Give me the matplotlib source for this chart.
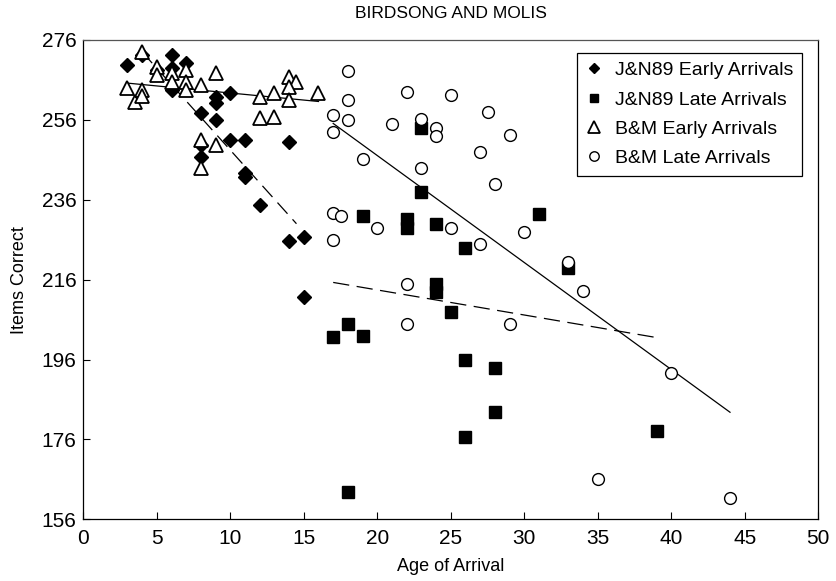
import matplotlib
matplotlib.use('Agg')
import matplotlib.pyplot as plt

plt.rcParams['font.family'] = ['Liberation Sans', 'DejaVu Sans']

# J&N89 early arrivals (diamonds)
jn_early_age = [3, 4, 5, 6, 6, 7, 6, 9, 9, 10, 8, 9, 10, 11, 14, 8, 8, 11, 11, 12, 14, 15, 15]
jn_early_score = [269.7, 272.2, 268.5, 272.2, 269.0, 270.2, 263.5, 261.8, 260.2, 262.7, 257.6,
                  256.0, 251.0, 251.0, 250.5, 249.7, 246.8, 242.6, 241.8, 234.7, 225.7, 226.6, 211.7]

# J&N89 late arrivals (squares)
jn_late_age = [23, 23, 19, 22, 22, 24, 31, 26, 33, 24, 24, 25, 18, 17, 19, 26, 28, 28, 26, 18, 39]
jn_late_score = [254.0, 238.0, 232.0, 231.3, 229.0, 230.0, 232.5, 224.0, 219.0, 215.0, 213.0,
                 208.0, 205.0, 201.7, 202.0, 196.0, 194.0, 182.8, 176.5, 162.8, 178.0]

# B&M early arrivals (triangles)
bm_early_age = [3, 3.5, 4, 4, 4, 5, 5, 6, 6, 7, 7, 7, 8, 9, 12, 13, 14, 14.5, 14, 14, 16,
                12, 13, 8, 9, 8]
bm_early_score = [264.0, 260.5, 263.5, 262.0, 273.0, 269.3, 267.2, 267.7, 265.6, 268.5, 265.6,
                  263.5, 264.7, 267.7, 261.8, 262.7, 266.8, 265.6, 264.3, 261.0, 262.7,
                  256.4, 256.8, 251.0, 249.7, 244.0]

# B&M late arrivals (circles)
bm_late_age = [18, 18, 18, 17, 17, 22, 25, 21, 23, 24, 24, 27.5, 29, 27, 19, 23, 28,
               17, 17.5, 20, 25, 27, 30, 17, 22, 22, 29, 33, 34, 40, 35, 44]
bm_late_score = [268.2, 261.0, 256.0, 257.2, 252.9, 262.9, 262.2, 255.0, 256.2, 254.0, 252.0,
                 258.0, 252.2, 248.0, 246.1, 244.0, 240.0, 232.8, 232.0, 229.0, 229.0, 225.0,
                 228.0, 225.8, 214.8, 204.8, 205.0, 220.5, 213.2, 192.6, 166.0, 161.4]

# fitted lines (end points)
jn_early_fit_x, jn_early_fit_y = [4, 14.5], [273.0, 230.0]
jn_late_fit_x, jn_late_fit_y = [17, 39], [215.3, 201.5]
bm_early_fit_x, bm_early_fit_y = [3, 16], [265.2, 260.6]
bm_late_fit_x, bm_late_fit_y = [17, 44], [255.1, 182.8]

x_ticks = list(range(0, 51, 5))
y_ticks = list(range(156, 277, 20))

fig = plt.figure(figsize=(8.36, 5.81), dpi=100)
ax = fig.add_axes([0.0997, 0.1062, 0.879, 0.825])

ax.plot(jn_early_fit_x, jn_early_fit_y, color='black', lw=0.9, dashes=(12, 6), zorder=2)
ax.plot(jn_late_fit_x, jn_late_fit_y, color='black', lw=0.9, dashes=(13, 6), zorder=2)
ax.plot(bm_early_fit_x, bm_early_fit_y, color='black', lw=0.9, zorder=2)
ax.plot(bm_late_fit_x, bm_late_fit_y, color='black', lw=0.9, zorder=2)

ax.plot(jn_early_age, jn_early_score, 'D', ms=7, color='black', ls='none',
        label='J&N89 Early Arrivals', zorder=3)
ax.plot(jn_late_age, jn_late_score, 's', ms=8, color='black', ls='none',
        label='J&N89 Late Arrivals', zorder=3)
ax.plot(bm_early_age, bm_early_score, '^', ms=10, mfc='white', mec='black', mew=1.3,
        ls='none', label='B&M Early Arrivals', zorder=4)
ax.plot(bm_late_age, bm_late_score, 'o', ms=8.5, mfc='white', mec='black', mew=1.0,
        ls='none', label='B&M Late Arrivals', zorder=4)

ax.set_xlim(0, 50)
ax.set_ylim(156, 276)
ax.set_xticks(x_ticks)
ax.set_yticks(y_ticks)
ax.tick_params(direction='in', length=5, width=0.8, labelsize=15)
ax.tick_params(axis='x', pad=7)
ax.tick_params(axis='y', pad=5)
for s in ax.spines.values():
    s.set_linewidth(0.9)
ax.spines['top'].set_color('#555555')

ax.set_xlabel('Age of Arrival', fontsize=13, labelpad=7)
ax.set_ylabel('Items Correct', fontsize=13, labelpad=10)
ax.set_title('BIRDSONG AND MOLIS', fontsize=12.5, pad=16)

leg = ax.legend(loc='upper right', bbox_to_anchor=(0.978, 0.973), borderaxespad=0,
                fontsize=14, frameon=True, fancybox=False, edgecolor='black', framealpha=1,
                handlelength=0.9, handletextpad=0.6, borderpad=0.45, labelspacing=0.6,
                markerscale=0.8)
leg.get_frame().set_linewidth(0.9)

fig.savefig('out.png', dpi=100)
